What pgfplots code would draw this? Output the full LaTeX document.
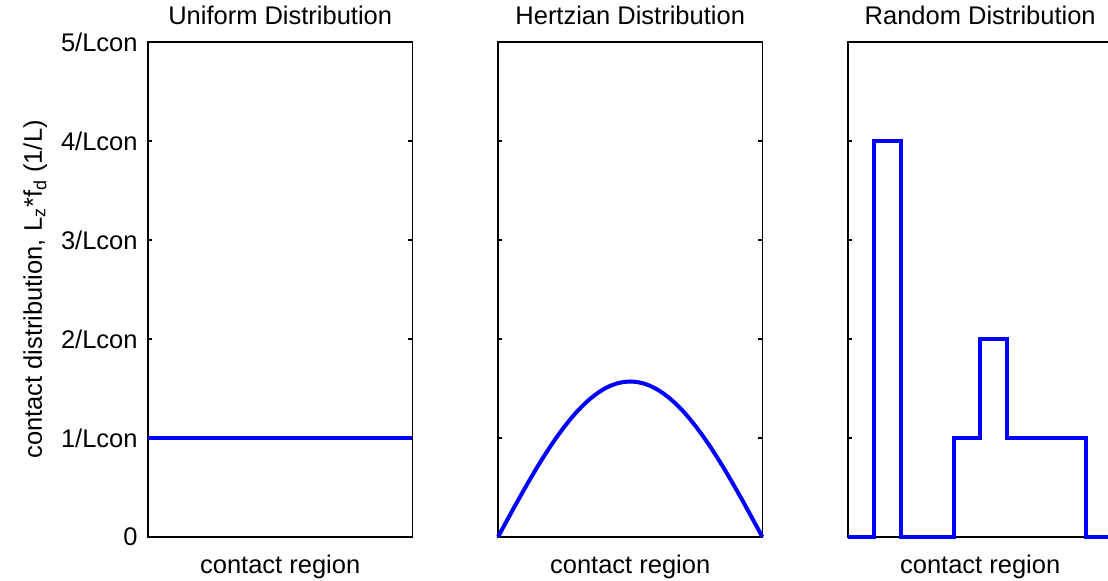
\documentclass[border=0pt]{standalone}
\usepackage{fontspec}
\setmainfont{Liberation Sans}
\usepackage{pgfplots}
\pgfplotsset{compat=1.18}

\pgfplotsset{
  every axis title/.style={at={(0.5,1)}, anchor=base, yshift=8.5pt, inner sep=0pt},
  dist/.style={
    scale only axis,
    width=132.2pt, height=247.5pt,
    anchor=south west,
    xmin=0, xmax=1, ymin=0, ymax=5,
    xtick=\empty,
    ytick={0,1,2,3,4,5},
    yticklabels={},
    tick align=inside,
    major tick length=2pt,
    tick style={black, line width=0.6pt},
    axis line style={black, line width=0.6pt},
    clip=false,
    font=\fontsize{12.75pt}{15pt}\selectfont,
    xlabel style={at={(axis description cs:0.5,0)}, anchor=base, yshift=-18.2pt, inner sep=0pt},
    yticklabel style={inner sep=0pt, xshift=-5pt},
    /pgf/number format/assume math mode=true,
    every axis plot/.append style={blue, line width=2pt, no marks},
  },
}

\begin{document}
\begin{tikzpicture}
  % uniform load over the contact region
  \begin{axis}[dist, at={(74pt,22pt)},
      title={Uniform Distribution}, xlabel={contact region},
      yticklabels={0,1/Lcon,2/Lcon,3/Lcon,4/Lcon,5/Lcon}]
    \addplot coordinates {(0,1) (1,1)};
  \end{axis}

  % Hertzian profile, (pi/2) sin(pi x)
  \begin{axis}[dist, at={(249pt,22pt)},
      title={Hertzian Distribution}, xlabel={contact region}]
    \addplot coordinates {
      (0.000,0.0000) (0.025,0.1232) (0.050,0.2457) (0.075,0.3667)
      (0.100,0.4854) (0.125,0.6011) (0.150,0.7131) (0.175,0.8207)
      (0.200,0.9233) (0.225,1.0202) (0.250,1.1107) (0.275,1.1944)
      (0.300,1.2708) (0.325,1.3393) (0.350,1.3996) (0.375,1.4512)
      (0.400,1.4939) (0.425,1.5274) (0.450,1.5515) (0.475,1.5660)
      (0.500,1.5708)
      (0.525,1.5660) (0.550,1.5515) (0.575,1.5274) (0.600,1.4939)
      (0.625,1.4512) (0.650,1.3996) (0.675,1.3393) (0.700,1.2708)
      (0.725,1.1944) (0.750,1.1107) (0.775,1.0202) (0.800,0.9233)
      (0.825,0.8207) (0.850,0.7131) (0.875,0.6011) (0.900,0.4854)
      (0.925,0.3667) (0.950,0.2457) (0.975,0.1232) (1.000,0.0000)
    };
  \end{axis}

  % piecewise-constant random load
  \begin{axis}[dist, at={(424pt,22pt)},
      title={Random Distribution}, xlabel={contact region}]
    \addplot coordinates {
      (0,0) (0.1,0) (0.1,4) (0.2,4) (0.2,0) (0.4,0) (0.4,1)
      (0.5,1) (0.5,2) (0.6,2) (0.6,1) (0.9,1) (0.9,0) (1,0)
    };
  \end{axis}

  \node[rotate=90, anchor=base, inner sep=0pt, font=\fontsize{12.75pt}{15pt}\selectfont]
    at (20.9pt,145.75pt)
    {contact distribution, L\textsubscript{z}*f\textsubscript{d} (1/L)};

  \pgfresetboundingbox
  \path[use as bounding box] (0,0) rectangle (554pt,290.5pt);
\end{tikzpicture}
\end{document}
